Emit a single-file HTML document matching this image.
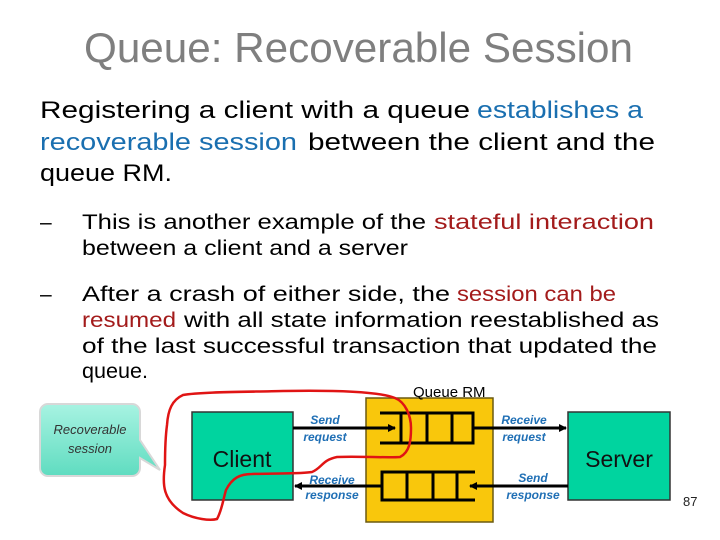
<!DOCTYPE html>
<html><head><meta charset="utf-8"><style>
html,body{margin:0;padding:0;background:#fff;}
svg{display:block;}
</style></head><body>
<svg width="720" height="540" viewBox="0 0 720 540" xmlns="http://www.w3.org/2000/svg" font-family="Liberation Sans, sans-serif">
<text x="84" y="62" font-size="42" fill="#7f7f7f" textLength="549" lengthAdjust="spacingAndGlyphs">Queue: Recoverable Session</text>
<g font-size="24" fill="#000">
<text x="40" y="118" textLength="430" lengthAdjust="spacingAndGlyphs">Registering a client with a queue</text>
<text x="477" y="118" fill="#1a6fb0" textLength="166" lengthAdjust="spacingAndGlyphs">establishes a</text>
<text x="40" y="150" fill="#1a6fb0" textLength="257" lengthAdjust="spacingAndGlyphs">recoverable session</text>
<text x="308" y="150" textLength="347" lengthAdjust="spacingAndGlyphs">between the client and the</text>
<text x="40" y="181" textLength="132" lengthAdjust="spacingAndGlyphs">queue RM.</text>
</g>
<g font-size="21" fill="#000">
<text x="40" y="229">–</text>
<text x="82" y="229" textLength="344" lengthAdjust="spacingAndGlyphs">This is another example of the</text>
<text x="434" y="229" fill="#a31b1b" textLength="220" lengthAdjust="spacingAndGlyphs">stateful interaction</text>
<text x="82" y="255" textLength="326" lengthAdjust="spacingAndGlyphs">between a client and a server</text>
<text x="40" y="301">–</text>
<text x="82" y="301" textLength="368" lengthAdjust="spacingAndGlyphs">After a crash of either side, the</text>
<text x="457" y="301" fill="#a31b1b" textLength="159" lengthAdjust="spacingAndGlyphs">session can be</text>
<text x="82" y="327" fill="#a31b1b" textLength="94" lengthAdjust="spacingAndGlyphs">resumed</text>
<text x="184" y="327" textLength="475" lengthAdjust="spacingAndGlyphs">with all state information reestablished as</text>
<text x="82" y="353" textLength="575" lengthAdjust="spacingAndGlyphs">of the last successful transaction that updated the</text>
<text x="82" y="378" textLength="66" lengthAdjust="spacingAndGlyphs">queue.</text>
</g>
<defs>
<linearGradient id="cg" x1="0" y1="0" x2="0" y2="1"><stop offset="0" stop-color="#a8f3e2"/><stop offset="1" stop-color="#5fdcc0"/></linearGradient>
<marker id="ah" markerWidth="8" markerHeight="8" refX="7" refY="4" orient="auto" markerUnits="userSpaceOnUse"><path d="M0,0 L8,4 L0,8 z" fill="#000"/></marker>
</defs>
<path d="M48,404 h84 a8,8 0 0 1 8,8 v28 l20,30 l-20,-12 v10 a8,8 0 0 1 -8,8 h-84 a8,8 0 0 1 -8,-8 v-56 a8,8 0 0 1 8,-8z" fill="url(#cg)" stroke="#d8d8d8" stroke-width="2"/>
<text x="90" y="434" font-size="13" font-style="italic" fill="#333" text-anchor="middle">Recoverable</text>
<text x="90" y="453" font-size="13" font-style="italic" fill="#333" text-anchor="middle">session</text>
<rect x="366" y="398" width="127" height="124" fill="#f9c70c" stroke="#6b5a10" stroke-width="1.5"/>
<text x="413" y="397" font-size="15" fill="#000">Queue RM</text>
<rect x="192" y="412" width="101" height="88" fill="#00d49f" stroke="#333" stroke-width="1.5"/>
<text x="242" y="467" font-size="23" fill="#111" text-anchor="middle">Client</text>
<rect x="568" y="412" width="102" height="88" fill="#00d49f" stroke="#333" stroke-width="1.5"/>
<text x="619" y="467" font-size="23" fill="#111" text-anchor="middle">Server</text>
<g stroke="#000" stroke-width="3" fill="none">
<path d="M380,413 H473 V443 H380"/>
<path d="M401,413 V443 M427,413 V443 M452,413 V443"/>
<path d="M475,472 H382 V500 H475"/>
<path d="M407,472 V500 M433,472 V500 M457,472 V500"/>
<line x1="293" y1="428" x2="395" y2="428" marker-end="url(#ah)"/>
<line x1="473" y1="428" x2="566" y2="428" marker-end="url(#ah)"/>
<line x1="568" y1="486" x2="470" y2="486" marker-end="url(#ah)"/>
<line x1="382" y1="486" x2="295" y2="486" marker-end="url(#ah)"/>
</g>
<g font-size="12" font-weight="bold" font-style="italic" fill="#1f6fb5" text-anchor="middle">
<text x="325" y="424">Send</text><text x="325" y="441">request</text>
<text x="524" y="424">Receive</text><text x="524" y="441">request</text>
<text x="332" y="484">Receive</text><text x="332" y="499">response</text>
<text x="533" y="482">Send</text><text x="533" y="499">response</text>
</g>
<path d="M165,465 C162,485 163,500 183,513 C195,519 210,521 217,519 C222,510 223,500 226,490 C232,478 240,474 252,474 C280,473 300,474 312,472 C322,468 322,460 337,457 C360,456 385,458 400,457 C410,452 411,440 411,428 C411,415 405,402 395,398 C380,392 340,390 283,391 C240,392 200,392 183,395 C172,400 168,410 167,425 C165,440 165,455 165,465 Z" fill="none" stroke="#e01414" stroke-width="2.5"/>
<text x="683" y="506" font-size="13" fill="#222">87</text>
</svg>
</body></html>
